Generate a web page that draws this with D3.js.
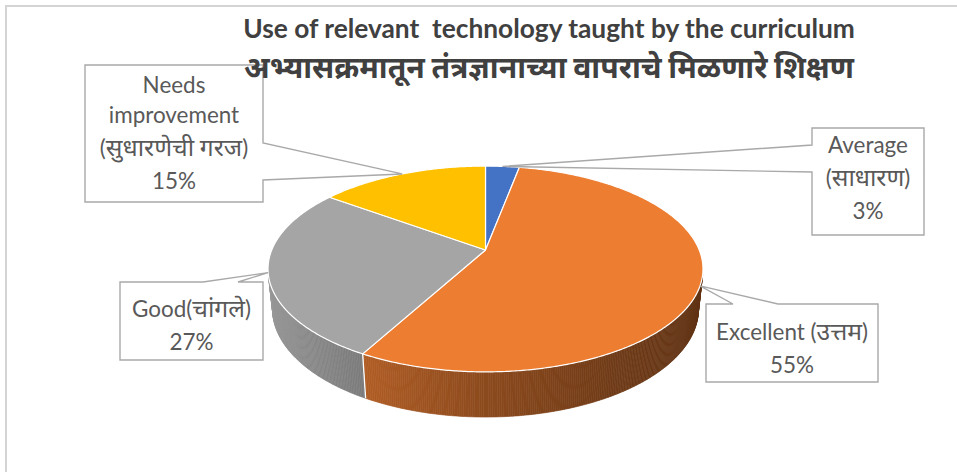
<!DOCTYPE html>
<html>
<head>
<meta charset="utf-8">
<script src="https://cdn.jsdelivr.net/npm/d3@7"></script>
<style>
  body { margin: 0; background: #fff; }
  svg { display: block; }
  text { white-space: pre; }
</style>
</head>
<body>
<svg id="chart" width="957" height="472"></svg>
<script>
// ---- data ----
const categories = ["Average", "Excellent", "Good", "Needs improvement"];
const labelLines = [
  ["Average", "(साधारण)"],
  ["Excellent (उत्तम)"],
  ["Good(चांगले)"],
  ["Needs", "improvement", "(सुधारणेची गरज)"]
];
const values = [3, 55, 27, 15];
const colors = ["#4472C4", "#ED7D31", "#A5A5A5", "#FFC000"];
const titleLines = [
  "Use of relevant  technology taught by the curriculum",
  "अभ्यासक्रमातून तंत्रज्ञानाच्या वापराचे मिळणारे शिक्षण"
];

// ---- layout ----
const W = 957, H = 472;
const latinFont = "Lato, 'Noto Sans', 'Noto Sans Devanagari', sans-serif";
const textColor = "#595959";
const titleColor = "#404040";
const frameColor = "#d4d4d4";
const calloutStroke = "#a9a9a9";
const devaScale = 1.1;   // Devanagari runs are set a little larger than Latin

// perspective camera for the 3D pie (unit radius, top face at y = 0)
const view = { cx: 485.5, cy: 250, f: 1026, D: 4.80, s: 0.465, h: 0.213 };
view.k = Math.sqrt(1 - view.s * view.s);

// callout boxes: where each box sits and where its pointer leaves the box
const callouts = [
  { x: 812, y: 128, w: 112, h: 107, side: "left",  t0: 145, t1: 172, base: 153 },
  { x: 706, y: 304, w: 172, h: 78,  side: "top",   t0: 733, t1: 778, base: 340 },
  { x: 120, y: 282, w: 143, h: 78,  side: "top",   t0: 203, t1: 238, base: 317 },
  { x: 85,  y: 65,  w: 178, h: 137, side: "right", t0: 143, t1: 180, base: 93 }
];

const svg = d3.select("#chart");

// chart frame (runs off the right and bottom edges)
svg.append("rect")
  .attr("x", 6).attr("y", 6)
  .attr("width", W + 10).attr("height", H + 10)
  .attr("fill", "#fff")
  .attr("stroke", frameColor).attr("stroke-width", 2);

// project a point on the pie: angle a clockwise from the back, radius r, height y
function project(a, r, y) {
  const x = r * Math.sin(a), z = -r * Math.cos(a);
  const sy = view.k * y - view.s * z;
  const depth = view.D - view.s * y - view.k * z;
  return [view.cx + view.f * x / depth, view.cy - view.f * sy / depth];
}

const pie = d3.pie().sort(null).value(d => d)
  .startAngle(0).endAngle(2 * Math.PI);
const arcs = pie(values);

const deg = Math.PI / 180;
const line = d3.line();

// outer wall is visible where its normal faces the camera
const cosLimit = -1 / (view.D * view.k);
const aL = Math.acos(cosLimit);           // right-hand silhouette
const aR = 2 * Math.PI - aL;              // left-hand silhouette

// side shading: brighter towards the left, darker to the right
const shade = d3.scaleLinear()
  .domain([-1, -0.5, 0, 0.5, 1])
  .range([0.93, 0.75, 0.59, 0.47, 0.40]);

function shaded(color, a) {
  const c = d3.rgb(color);
  const t = shade(Math.sin(a));
  return d3.rgb(c.r * t, c.g * t, c.b * t).formatHex();
}

const wallG = svg.append("g");
arcs.forEach((d, i) => {
  const a0 = Math.max(d.startAngle, aL), a1 = Math.min(d.endAngle, aR);
  if (a1 <= a0) return;
  const n = Math.max(2, Math.ceil((a1 - a0) / (0.5 * deg)));
  const step = (a1 - a0) / n;
  for (let j = 0; j < n; j++) {
    const s0 = a0 + j * step, s1 = s0 + step;
    const col = shaded(colors[i], (s0 + s1) / 2);
    wallG.append("path")
      .attr("d", line([project(s0, 1, 0), project(s1, 1, 0),
                       project(s1, 1, -view.h), project(s0, 1, -view.h)]) + "Z")
      .attr("fill", col).attr("stroke", col).attr("stroke-width", 0.6);
  }
});

// white seams where slices meet on the wall
arcs.forEach(d => {
  const a = d.startAngle;
  if (a > aL && a < aR) {
    wallG.append("path")
      .attr("d", line([project(a, 1, 0), project(a, 1, -view.h)]))
      .attr("stroke", "#fff").attr("stroke-width", 1.3).attr("fill", "none");
  }
});

// top faces
const topG = svg.append("g");
arcs.forEach((d, i) => {
  const pts = [project(0, 0, 0)];
  const n = Math.max(2, Math.ceil((d.endAngle - d.startAngle) / (0.5 * deg)));
  for (let j = 0; j <= n; j++) {
    const a = d.startAngle + (d.endAngle - d.startAngle) * j / n;
    pts.push(project(a, 1, 0));
  }
  topG.append("path")
    .attr("d", line(pts) + "Z")
    .attr("fill", colors[i])
    .attr("stroke", "#fff").attr("stroke-width", 1.2)
    .attr("stroke-linejoin", "round");
});

// callouts with pointers to the rim of each slice
const calloutG = svg.append("g");
arcs.forEach((d, i) => {
  const b = callouts[i];
  const tip = project((d.startAngle + d.endAngle) / 2, 1, 0);
  let pts;
  if (b.side === "left") {
    pts = [[b.x, b.y], [b.x + b.w, b.y], [b.x + b.w, b.y + b.h], [b.x, b.y + b.h],
           [b.x, b.t1], tip, [b.x, b.t0]];
  } else if (b.side === "right") {
    pts = [[b.x, b.y], [b.x + b.w, b.y], [b.x + b.w, b.t0], tip, [b.x + b.w, b.t1],
           [b.x + b.w, b.y + b.h], [b.x, b.y + b.h]];
  } else {
    pts = [[b.x, b.y], [b.t0, b.y], tip, [b.t1, b.y], [b.x + b.w, b.y],
           [b.x + b.w, b.y + b.h], [b.x, b.y + b.h]];
  }
  calloutG.append("path")
    .attr("d", line(pts) + "Z")
    .attr("fill", "#fff")
    .attr("stroke", calloutStroke).attr("stroke-width", 1.4)
    .attr("stroke-linejoin", "miter");
});

// write a string into a text element, enlarging Devanagari runs
const devaRe = /[\u0900-\u097F]/;
function setRuns(el, str, size) {
  el.selectAll("tspan").remove();
  el.text(null);
  str.split(/([\u0900-\u097F]+)/).filter(s => s.length).forEach(part => {
    el.append("tspan")
      .attr("font-size", devaRe.test(part) ? size * devaScale : size)
      .text(part);
  });
}

// font size that makes a string reach a target width
function fitSize(el, str, target) {
  setRuns(el, str, 20);
  const len = el.node().getComputedTextLength();
  return 20 * target / len;
}

// label text
const hasDeva = s => devaRe.test(s);
const probe = svg.append("text").attr("font-family", latinFont);
const labelSize = fitSize(probe, labelLines[1][0], 152);
probe.remove();

const fmtPct = v => Math.round(v / d3.sum(values) * 100) + "%";
arcs.forEach((d, i) => {
  const b = callouts[i];
  const lines = labelLines[i].concat([fmtPct(values[i])]);
  let y = b.base;
  lines.forEach((t, j) => {
    if (j > 0) y += (hasDeva(t) || hasDeva(lines[j - 1])) ? 33 : 30;
    const el = calloutG.append("text")
      .attr("x", b.x + b.w / 2).attr("y", y)
      .attr("text-anchor", "middle")
      .attr("font-family", latinFont)
      .attr("fill", textColor);
    setRuns(el, t, labelSize);
  });
});

// title
const titleG = svg.append("g");
const titleX = 549;
[[titleLines[0], 38, 612], [titleLines[1], 78, 610]].forEach(([t, y, w]) => {
  const el = titleG.append("text")
    .attr("x", titleX).attr("y", y)
    .attr("text-anchor", "middle")
    .attr("font-family", latinFont)
    .attr("font-weight", "bold")
    .attr("fill", titleColor);
  const size = fitSize(el, t, w);
  setRuns(el, t, size);
});
</script>
</body>
</html>
